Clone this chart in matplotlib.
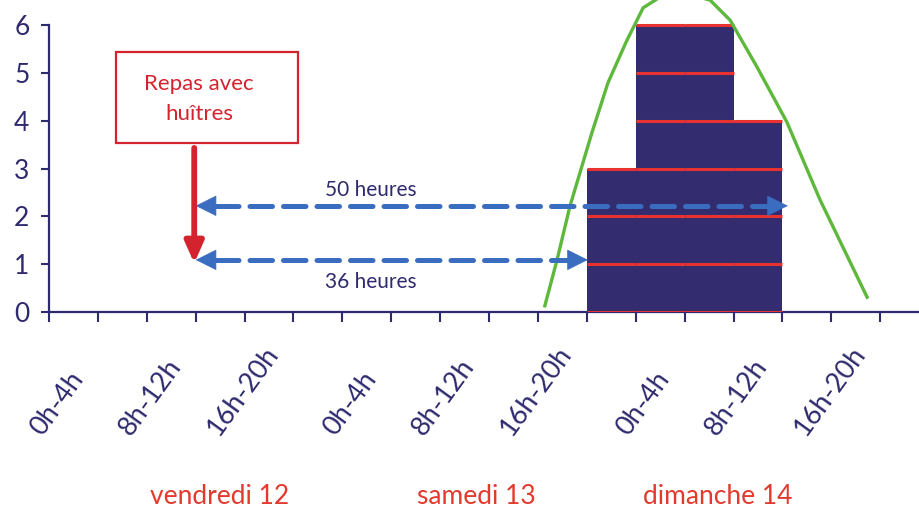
import matplotlib
matplotlib.use("Agg")
import matplotlib.pyplot as plt
from matplotlib import transforms
from matplotlib.patches import Rectangle

plt.rcParams['font.family'] = ['Lato', 'DejaVu Sans']

# ---- data ----
slot_labels = ["0h-4h", "8h-12h", "16h-20h"] * 3
label_slots = [0, 2, 4, 6, 8, 10, 12, 14, 16]
days = ["vendredi 12", "samedi 13", "dimanche 14"]
bar_slots = [11, 12, 13, 14]
bar_counts = [3, 6, 6, 4]
curve_x = [10.14, 10.39, 10.65, 11.10, 11.43, 11.80, 12.15, 12.55, 12.95, 13.52, 13.93, 14.48, 15.09, 15.77, 16.73]
curve_y = [0.13, 1.09, 2.20, 3.74, 4.79, 5.64, 6.36, 6.62, 6.68, 6.52, 6.10, 5.12, 3.97, 2.34, 0.31]
meal_slot = 3.0
arrow_36_end = 11.02
arrow_50_end = 15.11

NAVY = "#2E2A6E"
BAR = "#332C6F"
RED_LINE = "#E8322F"
RED_TXT = "#E23A2E"
BOX_RED = "#D4232E"
GREEN = "#5DB83C"
BLUE = "#3A6CBF"

W, H = 920, 515
fig = plt.figure(figsize=(9.2, 5.15), dpi=100)
ax = fig.add_axes([49 / W, 1 - 312 / H, 1 - 49 / W, 312 / H])
px_per_y = 47.83
px_per_x = 48.9
ax.set_ylim(0, 312 / px_per_y)
ax.set_xlim(0, (W - 49) / px_per_x)

for s in ["top", "right"]:
    ax.spines[s].set_visible(False)
ax.spines["left"].set_bounds(0, 6)
for s in ["left", "bottom"]:
    ax.spines[s].set_color(NAVY)
    ax.spines[s].set_linewidth(1.6)

ax.set_yticks(range(0, 7))
ax.set_xticks(range(0, 18))
ax.set_xticklabels([])
ax.tick_params(axis="y", direction="out", length=6, width=1.5, color=NAVY,
               labelcolor=NAVY, labelsize=19, pad=8)
ax.tick_params(axis="x", direction="out", length=7, width=1.5, color=NAVY)

# bars with red separators
ax.bar(bar_slots, bar_counts, width=1.0, align="edge", color=BAR, zorder=2)
for s, c in zip(bar_slots, bar_counts):
    ax.hlines(list(range(0, c + 1)), s, s + 1, color=RED_LINE, lw=2.2, zorder=3)

# green curve
ax.plot(curve_x, curve_y, color=GREEN, lw=2.4, zorder=4, clip_on=False)

# x labels
trans = transforms.blended_transform_factory(ax.transData, fig.transFigure)
for sl, lab in zip(label_slots, slot_labels):
    ax.text(sl + 0.5 + 14.5 / px_per_x, 1 - 440 / H, lab, transform=trans,
            rotation=54, ha="right", va="bottom", color=NAVY, fontsize=19.5)

day_x = [3.48, 8.75, 13.68]
for dx, d in zip(day_x, days):
    ax.text(dx, 1 - 497 / H, d, transform=trans, ha="center", va="center",
            color=RED_TXT, fontsize=19)

# blue dashed double arrows
def dbl_arrow(x0, x1, y):
    hl = 20 / px_per_x
    ax.plot([x0 + hl, x1 - hl], [y, y], color=BLUE, lw=3.6,
            dashes=(4.5, 2.2), solid_capstyle="butt", dash_capstyle="round", zorder=5)
    for tip, tail in ((x0, x0 + hl * 1.05), (x1, x1 - hl * 1.05)):
        ax.annotate("", xy=(tip, y), xytext=(tail, y),
                    arrowprops=dict(arrowstyle="-|>,head_length=1.0,head_width=0.5",
                                    color=BLUE, lw=0.5, mutation_scale=14,
                                    shrinkA=0, shrinkB=0), zorder=5)

dbl_arrow(meal_slot, arrow_50_end, 2.22)
dbl_arrow(meal_slot, arrow_36_end, 1.09)
ax.text(6.58, 2.55, "50 heures", ha="center", va="center", color=NAVY, fontsize=15)
ax.text(6.58, 0.63, "36 heures", ha="center", va="center", color=NAVY, fontsize=15)

# red box + arrow
ax.add_patch(Rectangle((1.37, 3.53), 3.72, 1.91, fill=False, edgecolor=BOX_RED,
                       lw=1.6, zorder=5, clip_on=False))
ax.text(3.07, 4.45, "Repas avec\nhuîtres", ha="center", va="center", color=BOX_RED,
        fontsize=16, linespacing=1.6, zorder=6)
ax.annotate("", xy=(2.97, 1.02), xytext=(2.97, 3.43),
            arrowprops=dict(arrowstyle="-|>,head_length=0.9,head_width=0.4",
                            color=BOX_RED, lw=4.2, mutation_scale=14,
                            shrinkA=0, shrinkB=0), zorder=6)

fig.savefig("out.png", dpi=100)
